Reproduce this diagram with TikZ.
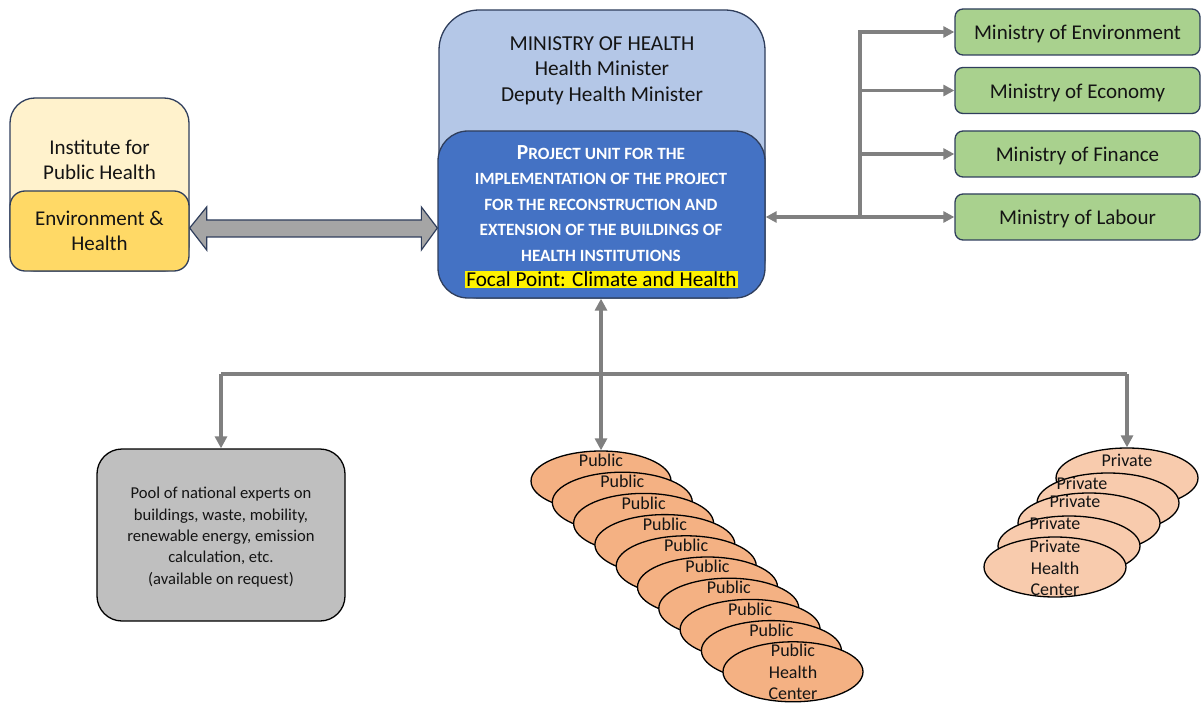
\documentclass[tikz,border=0pt]{standalone}
\usepackage{fontspec}
\setmainfont{Carlito}
\usetikzlibrary{arrows.meta,calc,shapes.geometric}
\definecolor{navy}{HTML}{2F3E5C}
\definecolor{lblue}{HTML}{B4C7E7}
\definecolor{dblue}{HTML}{4472C4}
\definecolor{lyel}{HTML}{FFF2CC}
\definecolor{dyel}{HTML}{FFD966}
\definecolor{green1}{HTML}{A9D18E}
\definecolor{greyb}{HTML}{BFBFBF}
\definecolor{conng}{HTML}{808080}
\definecolor{arrg}{HTML}{A5A5A5}
\definecolor{pubor}{HTML}{F4B183}
\definecolor{privor}{HTML}{F8CBAD}
\definecolor{txt}{HTML}{141414}
\begin{document}
\begin{tikzpicture}[x=1pt,y=-1pt,
  box/.style={draw=navy, line width=1.3pt, inner sep=0pt},
  gbox/.style={box, fill=green1, rounded corners=8pt, minimum width=245pt, minimum height=46pt,
     text=txt, font=\fontsize{21}{25}\selectfont, text height=20pt, text depth=4pt},
  conn/.style={draw=conng, line width=3.2pt},
  tip/.style={-{Triangle[length=11pt,width=11pt]}},
  pubell/.style={ellipse, draw=black, line width=1.3pt, fill=pubor, minimum width=140pt, minimum height=60pt, inner sep=0pt},
  privell/.style={ellipse, draw=black, line width=1.3pt, fill=privor, minimum width=142pt, minimum height=60pt, inner sep=0pt},
  etext/.style={text=txt, font=\fontsize{18}{21.2}\selectfont, align=center, inner sep=0pt},
]
\useasboundingbox (0,0) rectangle (1201,703);

% Ministry of Health
\node[box, fill=lblue, rounded corners=40pt, minimum width=326pt, minimum height=288pt] (moh) at (602,154) {};
\node[text=txt, font=\fontsize{21.3}{25.5}\selectfont, align=center] (mohtext) at (602,70.5)
  {MINISTRY OF HEALTH\\Health Minister\\Deputy Health Minister};
\node[box, fill=dblue, rounded corners=30pt, minimum width=327pt, minimum height=167pt] (pu) at (601.5,214.5) {};
\node[text=white, font=\bfseries\fontsize{17.2}{25.5}\selectfont, align=center] (putext) at (601,203.5)
  {{\fontsize{21.5}{25.5}\selectfont P}ROJECT UNIT FOR THE\\IMPLEMENTATION OF THE PROJECT\\FOR THE RECONSTRUCTION AND\\EXTENSION OF THE BUILDINGS OF\\HEALTH INSTITUTIONS};
\node[fill=yellow, text=black, font=\fontsize{21.2}{24}\selectfont, inner xsep=1pt, inner ysep=1pt] (focal) at (601.5,279.5) {Focal Point: Climate and Health};

% Institute
\node[box, fill=lyel, rounded corners=25pt, minimum width=179pt, minimum height=173pt] (inst) at (99.5,184.5) {};
\node[text=txt, font=\fontsize{21}{25.5}\selectfont, align=center] (insttext) at (99.5,160) {Institute for\\Public Health};
\node[box, fill=dyel, rounded corners=15pt, minimum width=179pt, minimum height=80pt, text=txt,
  font=\fontsize{21}{25.5}\selectfont, align=center] (env) at (99.5,231) {Environment \&\\Health};

% double arrow
\draw[navy, line width=1.2pt, fill=arrg]
  ($(env.east|-0,228)$) -- ++(17,-21) -- ++(0,13) -- ($(pu.west|-0,220)+(-16,0)$) -- ++(0,-13)
  -- ($(pu.west|-0,228)$) -- ++(-16,22) -- ++(0,-13) -- ($(env.east|-0,237)+(17,0)$) -- ++(0,13) -- cycle;

% Ministries
\node[gbox] (menv) at (1077.5,32) {Ministry of Environment};
\node[gbox] (meco) at (1077.5,90.5) {Ministry of Economy};
\node[gbox] (mfin) at (1077.5,154) {Ministry of Finance};
\node[gbox] (mlab) at (1077.5,217) {Ministry of Labour};
\coordinate (hub) at (860,217);
\draw[conn, tip] (hub) -- (pu.east|-hub);
\draw[conn, tip] (hub) |- (menv.west);
\draw[conn, tip] (hub) |- (meco.west);
\draw[conn, tip] (hub) |- (mfin.west);
\draw[conn, tip] (hub) -- (mlab.west);

% Pool
\node[box, draw=black, fill=greyb, rounded corners=25pt, minimum width=248pt, minimum height=172pt] (pool) at (221,535) {};
\node[text=txt, font=\fontsize{16.6}{21.3}\selectfont, align=center] (pooltext) at (221,537)
  {Pool of national experts on\\buildings, waste, mobility,\\renewable energy, emission\\calculation, etc.\\(available on request)};

% Public ellipses
\foreach \i in {0,...,8} {
  \node[pubell] (pub\i) at ({601+21.3*\i},{481+21.2*\i}) {};
  \node[etext] (pubt\i) at ($(pub\i.center)+(0,-20.5)$) {Public};
}
\node[pubell] (pub9) at (793,671.8) {};
\node[etext] (pubt9) at (793,672) {Public\\Health\\Center};

% Private ellipses
\node[privell] (prv0) at (1127,478) {};
\node[etext] (prvt0) at ($(prv0.center)+(0,-18)$) {Private};
\node[privell] (prv1) at (1108,503) {};
\node[etext] (prvt1) at ($(prv1.center)+(-26,-20)$) {Private};
\node[privell] (prv2) at (1089,523) {};
\node[etext] (prvt2) at ($(prv2.center)+(-14,-22)$) {Private};
\node[privell] (prv3) at (1069,546) {};
\node[etext] (prvt3) at ($(prv3.center)+(-14,-23)$) {Private};
\node[privell] (prv4) at (1055,567) {};
\node[etext] (prvt4) at (1055,568) {Private\\Health\\Center};

% bottom connectors
\coordinate (bj) at (601,374);
\draw[conn, line width=4pt, {Triangle[length=12pt,width=12pt]}-{Triangle[length=12pt,width=12pt]}] (pu.south-|bj) -- (pub0.north-|bj);
\draw[conn] (pool.north|-bj) -- (prv0.north|-bj);
\draw[conn, -{Triangle[length=12pt,width=12pt]}] (pool.north|-bj) -- (pool.north);
\draw[conn, -{Triangle[length=12pt,width=12pt]}] (prv0.north|-bj) -- (prv0.north);
\end{tikzpicture}
\end{document}
